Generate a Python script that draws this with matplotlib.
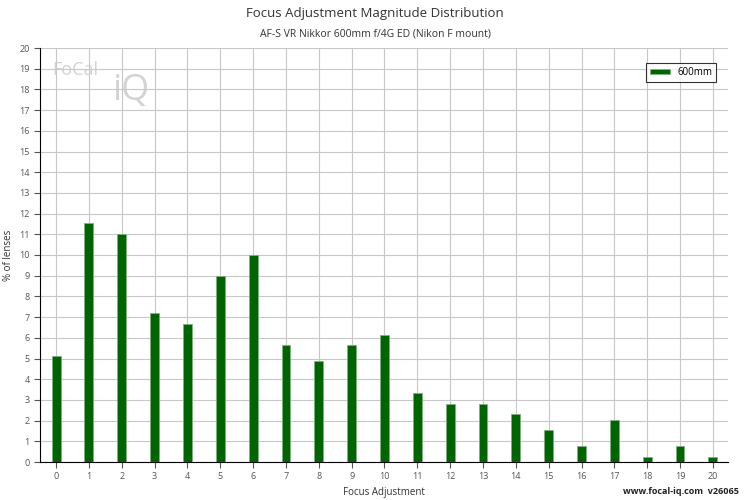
import matplotlib
matplotlib.use("Agg")
import matplotlib.pyplot as plt

# ── data ───────────────────────────────────────────────────────────────────────
adjust = list(range(21))
pct_600 = [5.13, 11.54, 11.03, 7.18, 6.67, 8.97, 10.0, 5.64, 4.87, 5.64, 6.15,
           3.33, 2.82, 2.82, 2.31, 1.54, 0.77, 2.05, 0.26, 0.77, 0.26]
BAR_COL = "#006400"

plt.rcParams["font.family"] = ["Open Sans", "DejaVu Sans"]

fig = plt.figure(figsize=(7.5, 5), dpi=100)
ax = fig.add_axes([40 / 750, 1 - 462 / 500, 688 / 750, 414 / 500])

ax.bar(adjust, pct_600, width=0.27, color=BAR_COL, edgecolor="#7fb07f",
       linewidth=0.6, label="600mm", zorder=3)

ax.set_xlim(-0.49, 20.46)
ax.set_ylim(0, 20)
ax.set_xticks(adjust)
ax.set_yticks(range(21))
ax.tick_params(labelsize=6.5, colors="#555555", length=4)
ax.tick_params(axis="x", direction="out")
ax.grid(True, color="#c8c8c8", linewidth=0.8, zorder=0)
for s in ("top", "right"):
    ax.spines[s].set_visible(False)
ax.spines["left"].set_color("black")
ax.spines["bottom"].set_color("black")

ax.set_xlabel("Focus Adjustment", fontsize=7, color="#333333")
ax.set_ylabel("% of lenses", fontsize=7, color="#333333")

leg = ax.legend(loc="upper right", bbox_to_anchor=(0.99, 0.975), fontsize=7,
                fancybox=False, edgecolor="black", handlelength=2,
                handleheight=0.3)
leg.get_frame().set_linewidth(0.8)

fig.text(0.5, 0.965, "Focus Adjustment Magnitude Distribution", ha="center",
         fontsize=9.5, color="#333333")
fig.text(0.5, 0.928, "AF-S VR Nikkor 600mm f/4G ED (Nikon F mount)",
         ha="center", fontsize=7.5, color="#333333")
fig.text(0.985, 0.012, "www.focal-iq.com  v26065", ha="right",
         fontsize=6.5, color="#222222", fontweight="bold")

# faint watermark
fig.text(0.07, 0.85, "FoCal", fontsize=13, color="#c8c8c8", alpha=0.8)
fig.text(0.15, 0.80, "iQ", fontsize=26, color="#c8c8c8", alpha=0.8)

fig.savefig("out.png", dpi=100)
